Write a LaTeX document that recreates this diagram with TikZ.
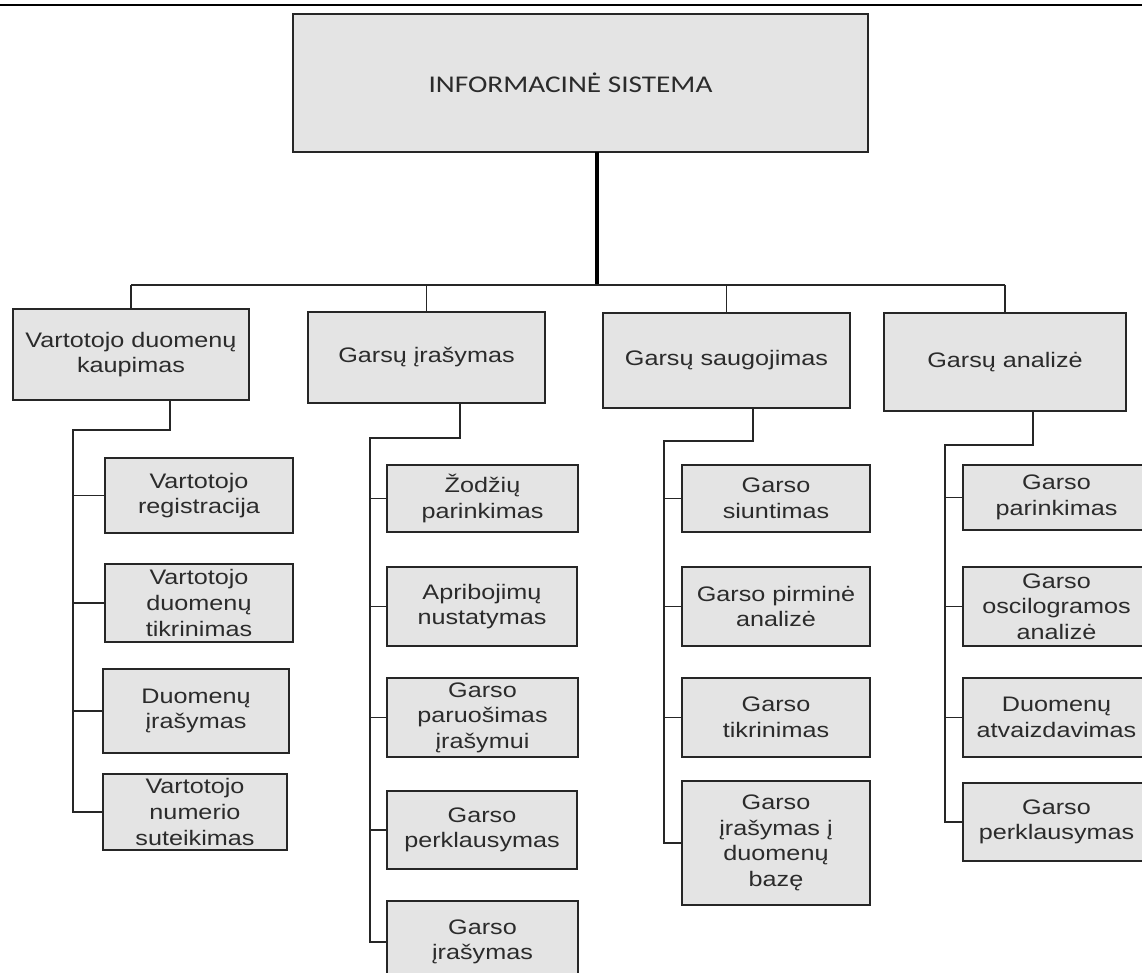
\documentclass[tikz,border=0pt]{standalone}
\usepackage{fontspec}
\setmainfont{Liberation Sans}[FakeStretch=1.2]
\newfontfamily\calib{Carlito}[FakeStretch=1.22]
\definecolor{boxfill}{HTML}{E4E4E4}
\definecolor{linec}{HTML}{262626}
\definecolor{txt}{HTML}{2B2B2B}
\newcommand\bx[6]{\node[box, minimum width={(#4-#2)*0.5pt}, minimum height={(#5-#3)*0.5pt}] (#1) at ({(#2+#4)/2},{(#3+#5)/2}) {#6};}
\begin{document}
\begin{tikzpicture}[x=0.5pt,y=-0.5pt,
  box/.style={draw=linec, line width=1pt, fill=boxfill, inner sep=0pt, outer sep=0pt,
    align=center, text=txt, font=\fontsize{10.5}{12.8}\selectfont},
  conn/.style={draw=linec, line width=0.8pt},
  trunk/.style={draw=linec, line width=1pt},
  main/.style={draw=black, line width=1.6pt}]
\useasboundingbox (0,0) rectangle (1142,973);
\clip (0,0) rectangle (1142,973);
\fill[white] (0,0) rectangle (1142,973);
% top rule
\draw[draw=black, line width=1.1pt] (0,5) -- (1142,5);
% top box
\bx{top}{293}{14}{868}{152}{{\calib\fontsize{12}{14}\selectfont INFORMACINĖ SISTEMA}\hspace*{10pt}}
% level 2
\bx{A}{13}{309}{249}{400}{Vartotojo duomenų\\kaupimas}
\bx{B}{308}{312}{545}{403}{Garsų įrašymas}
\bx{C}{603}{313}{850}{408}{Garsų saugojimas}
\bx{D}{884}{313}{1126}{411}{Garsų analizė}
% column A
\bx{a1}{105}{458}{293}{533}{Vartotojo\\registracija}
\bx{a2}{105}{564}{293}{642}{Vartotojo\\duomenų\\tikrinimas}
\bx{a3}{103}{669}{289}{753}{Duomenų\\įrašymas}
\bx{a4}{103}{774}{287}{850}{Vartotojo\\numerio\\suteikimas}
% column B
\bx{b1}{387}{465}{578}{532}{Žodžių\\parinkimas}
\bx{b2}{387}{567}{577}{646}{Apribojimų\\nustatymas}
\bx{b3}{387}{678}{578}{757}{Garso\\paruošimas\\įrašymui}
\bx{b4}{387}{791}{577}{869}{Garso\\perklausymas}
\bx{b5}{387}{901}{578}{983}{Garso\\įrašymas}
% column C
\bx{c1}{682}{465}{870}{532}{Garso\\siuntimas}
\bx{c2}{682}{567}{870}{646}{Garso pirminė\\analizė}
\bx{c3}{682}{678}{870}{757}{Garso\\tikrinimas}
\bx{c4}{682}{781}{870}{905}{Garso\\įrašymas į\\duomenų\\bazę}
% column D
\bx{d1}{963}{465}{1150}{530}{Garso\\parinkimas}
\bx{d2}{963}{567}{1150}{646}{Garso\\oscilogramos\\analizė}
\bx{d3}{963}{678}{1150}{757}{Duomenų\\atvaizdavimas}
\bx{d4}{963}{783}{1150}{861}{Garso\\perklausymas}
% main connectors
\coordinate (hl) at (597,285);
\draw[main] (top.south -| hl) -- (hl);
\draw[conn] (A.north |- hl) -- (D.north |- hl);
\draw[conn] (A.north |- hl) -- (A.north);
\draw[conn] (B.north |- hl) -- (B.north);
\draw[conn] (C.north |- hl) -- (C.north);
\draw[conn] (D.north |- hl) -- (D.north);
% column trunks
\coordinate (Ad) at (170,430); \coordinate (At) at (73,430);
\coordinate (Bd) at (460,438); \coordinate (Bt) at (370,438);
\coordinate (Cd) at (753,441); \coordinate (Ct) at (664,441);
\coordinate (Dd) at (1033,445); \coordinate (Dt) at (945,445);
\draw[trunk] (A.south -| Ad) -- (Ad) -- (At) -- (At |- a4.west) -- (a4.west);
\draw[trunk] (B.south -| Bd) -- (Bd) -- (Bt) -- (Bt |- b5.west) -- (b5.west);
\draw[trunk] (C.south -| Cd) -- (Cd) -- (Ct) -- (Ct |- c4.west) -- (c4.west);
\draw[trunk] (D.south -| Dd) -- (Dd) -- (Dt) -- (Dt |- d4.west) -- (d4.west);
% branches
\foreach \n in {a1,a2,a3} \draw[conn] (At |- \n.west) -- (\n.west);
\foreach \n in {b1,b2,b3,b4} \draw[conn] (Bt |- \n.west) -- (\n.west);
\foreach \n in {c1,c2,c3} \draw[conn] (Ct |- \n.west) -- (\n.west);
\foreach \n in {d1,d2,d3} \draw[conn] (Dt |- \n.west) -- (\n.west);
\end{tikzpicture}
\end{document}
